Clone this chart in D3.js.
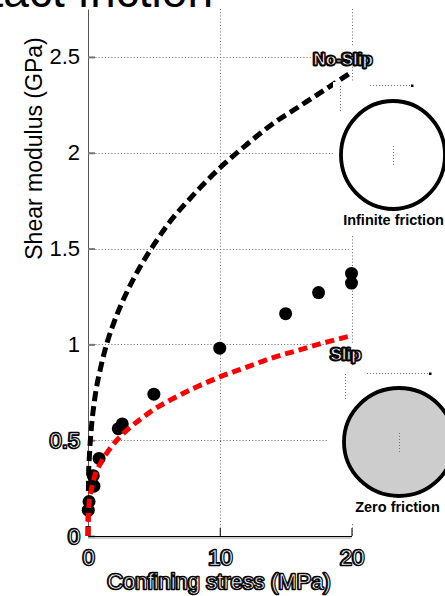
<!DOCTYPE html>
<html>
<head>
<meta charset="utf-8">
<script src="https://cdn.jsdelivr.net/npm/d3@7"></script>
<style>
  html, body { margin: 0; padding: 0; background: #fff; }
  svg { display: block; font-family: "Liberation Sans", Arial, Helvetica, sans-serif; }
</style>
</head>
<body>
<svg id="chart" width="445" height="596"></svg>
<script>
// Confining stress (MPa) at which the model curves are tabulated
const modelStress = [0, 0.05, 0.1, 0.25, 0.5, 1, 1.5, 2, 3, 4, 5, 6, 8, 10, 12, 14, 16, 18, 20];
// Shear modulus (GPa), infinite contact friction (no-slip)
const noSlipModulus = [0, 0.33, 0.41, 0.56, 0.71, 0.89, 1.02, 1.12, 1.28, 1.41, 1.52, 1.62, 1.78, 1.92, 2.04, 2.15, 2.24, 2.33, 2.42];
// Shear modulus (GPa), zero contact friction (slip)
const slipModulus = [0, 0.14, 0.18, 0.24, 0.31, 0.385, 0.44, 0.485, 0.555, 0.61, 0.66, 0.70, 0.77, 0.83, 0.88, 0.93, 0.97, 1.01, 1.045];
// Measured samples
const measuredStress = [0.02, 0.08, 0.45, 0.4, 0.84, 2.3, 2.6, 5, 10, 15, 17.5, 20, 20];
const measuredModulus = [0.135, 0.18, 0.26, 0.315, 0.405, 0.56, 0.585, 0.74, 0.98, 1.16, 1.27, 1.32, 1.37];
// Axis ticks
const xTicks = [0, 10, 20];
const yTicks = [0, 0.5, 1, 1.5, 2, 2.5];
const outlinedYTicks = [0, 0.5];

const svg = d3.select("#chart");
const x = d3.scaleLinear().domain([0, 20]).range([88, 351.5]);
const y = d3.scaleLinear().domain([0, 2.75]).range([536, 9]);

// outlined ("hollow") text: thick black body with a thin white core
function outline(textSel, under = 2.6, inner = 0.7) {
  textSel.each(function () {
    const t = d3.select(this);
    const base = this.cloneNode(true);
    this.parentNode.insertBefore(base, this);
    d3.select(base).attr("fill", "#000").attr("stroke", "#000").attr("stroke-width", under)
      .attr("stroke-linejoin", "round");
    t.attr("fill", "#fff").attr("stroke", "#000").attr("stroke-width", inner)
      .attr("transform", "translate(0.4,0.4)");
  });
}

// title (runs off the top edge)
svg.append("text")
  .attr("x", 213).attr("y", 7)
  .attr("text-anchor", "end")
  .attr("font-size", 46)
  .attr("fill", "#000")
  .text("Contact friction");

// dotted grid
const grid = svg.append("g").attr("stroke", "#666").attr("stroke-width", 1)
  .attr("stroke-dasharray", "1,2.2").attr("fill", "none");
grid.selectAll("line.h").data(yTicks.filter(d => d > 0)).join("line")
  .attr("class", "h")
  .attr("x1", x(0) + 1).attr("x2", x(20))
  .attr("y1", d => Math.round(y(d)) + 0.5).attr("y2", d => Math.round(y(d)) + 0.5);
grid.selectAll("line.v").data(xTicks.filter(d => d > 0)).join("line")
  .attr("class", "v")
  .attr("x1", d => Math.round(x(d)) + 0.5).attr("x2", d => Math.round(x(d)) + 0.5)
  .attr("y1", y.range()[1]).attr("y2", y(0));

// y axis
const yAxis = svg.append("g")
  .attr("transform", `translate(${x(0)},0)`)
  .call(d3.axisLeft(y).tickValues(yTicks).tickFormat(d3.format("")).tickSizeInner(-7).tickSizeOuter(0).tickPadding(8));
yAxis.select(".domain").attr("stroke", "#555");
yAxis.selectAll(".tick line").attr("stroke", "#777").attr("stroke-width", 2);
yAxis.selectAll(".tick text").attr("font-size", 22).attr("fill", "#000")
  .attr("font-family", "'Liberation Sans', Arial, sans-serif");
outline(yAxis.selectAll(".tick text").filter(d => outlinedYTicks.includes(d)));

// x axis
const xAxis = svg.append("g")
  .attr("transform", `translate(0,${y(0)})`)
  .call(d3.axisBottom(x).tickValues(xTicks).tickSizeInner(-8).tickSizeOuter(0).tickPadding(13));
xAxis.select(".domain").attr("stroke", "#000").attr("stroke-width", 1.2);
xAxis.append("line").attr("x1", x(0)).attr("x2", x(20)).attr("y1", 2).attr("y2", 2)
  .attr("stroke", "#999").attr("stroke-width", 1);
xAxis.selectAll(".tick line").attr("stroke", "#000");
xAxis.selectAll(".tick text").attr("font-size", 22).attr("fill", "#000")
  .attr("font-family", "'Liberation Sans', Arial, sans-serif");
outline(xAxis.selectAll(".tick text"));

// axis titles
const xTitle = svg.append("text")
  .attr("x", x(10) - 1).attr("y", 589)
  .attr("text-anchor", "middle").attr("font-size", 22)
  .text("Confining stress (MPa)");
outline(xTitle);

svg.append("text")
  .attr("transform", `translate(42,${(y(0) + y(2.75)) / 2 - 124}) rotate(-90)`)
  .attr("text-anchor", "middle").attr("font-size", 23).attr("fill", "#000")
  .text("Shear modulus (GPa)");

// measured samples
svg.append("g").selectAll("circle")
  .data(measuredStress.map((s, i) => [s, measuredModulus[i]]))
  .join("circle")
  .attr("cx", d => x(d[0])).attr("cy", d => y(d[1]))
  .attr("r", 6.5).attr("fill", "#000");

// model curves
const line = d3.line().x(d => x(d[0])).y(d => y(d[1])).curve(d3.curveMonotoneX);
svg.append("path")
  .datum(modelStress.map((s, i) => [s, noSlipModulus[i]]))
  .attr("d", line).attr("fill", "none")
  .attr("stroke", "#000").attr("stroke-width", 5).attr("stroke-dasharray", "10,5");
svg.append("path")
  .datum(modelStress.map((s, i) => [s, slipModulus[i]]))
  .attr("d", line).attr("fill", "none")
  .attr("stroke", "#ff0000").attr("stroke-width", 5).attr("stroke-dasharray", "9,5");

// curve labels
function curveLabel(tx, ty, txt, bg) {
  svg.append("rect").attr("x", bg[0]).attr("y", bg[1]).attr("width", bg[2]).attr("height", bg[3]).attr("fill", "#fff");
  const t = svg.append("text").attr("x", tx).attr("y", ty)
    .attr("font-size", 17).attr("font-weight", "bold").text(txt);
  outline(t, 3, 0.9);
}
curveLabel(313, 65, "No-Slip", [312, 47, 48, 18]);
curveLabel(330, 360, "Slip", [329, 344, 36, 20]);

// inset sketches of a grain contact
function inset(box, cx, cy, rx, ry, fill, caption, capX, capY, marks) {
  svg.append("rect").attr("x", box[0]).attr("y", box[1]).attr("width", box[2]).attr("height", box[3]).attr("fill", "#fff");
  const g = svg.append("g");
  const dotted = { stroke: "#777", "stroke-width": 1, "stroke-dasharray": "1,2" };
  marks.forEach(m => {
    const l = g.append("line").attr("x1", m[0]).attr("y1", m[1]).attr("x2", m[2]).attr("y2", m[3]);
    Object.entries(dotted).forEach(([k, v]) => l.attr(k, v));
  });
  g.append("ellipse").attr("cx", cx).attr("cy", cy).attr("rx", rx).attr("ry", ry)
    .attr("fill", fill).attr("stroke", "#000").attr("stroke-width", 3.8);
  const c = [marks[1][2] + 1, marks[1][3]];
  g.append("rect").attr("x", c[0]).attr("y", c[1] - 1).attr("width", 2.5).attr("height", 2.5).attr("fill", "#000");
  const cm = g.append("line").attr("x1", cx + 0.5).attr("x2", cx + 0.5).attr("y1", cy - 9).attr("y2", cy + 11);
  Object.entries(dotted).forEach(([k, v]) => cm.attr(k, v));
  g.append("text").attr("x", capX).attr("y", capY).attr("text-anchor", "middle")
    .attr("font-size", 14.5).attr("font-weight", "bold").text(caption);
}
inset([333, 82, 112, 154], 393, 155, 52, 54, "none", "Infinite friction", 393.5, 225,
  [[340.5, 86, 340.5, 113], [370, 85.5, 410, 85.5]]);
inset([329, 366, 116, 158], 399, 442, 55, 54, "#cdcdcd", "Zero friction", 397.5, 512,
  [[345.5, 374, 345.5, 401], [367, 373.5, 428, 373.5]]);
</script>
</body>
</html>
